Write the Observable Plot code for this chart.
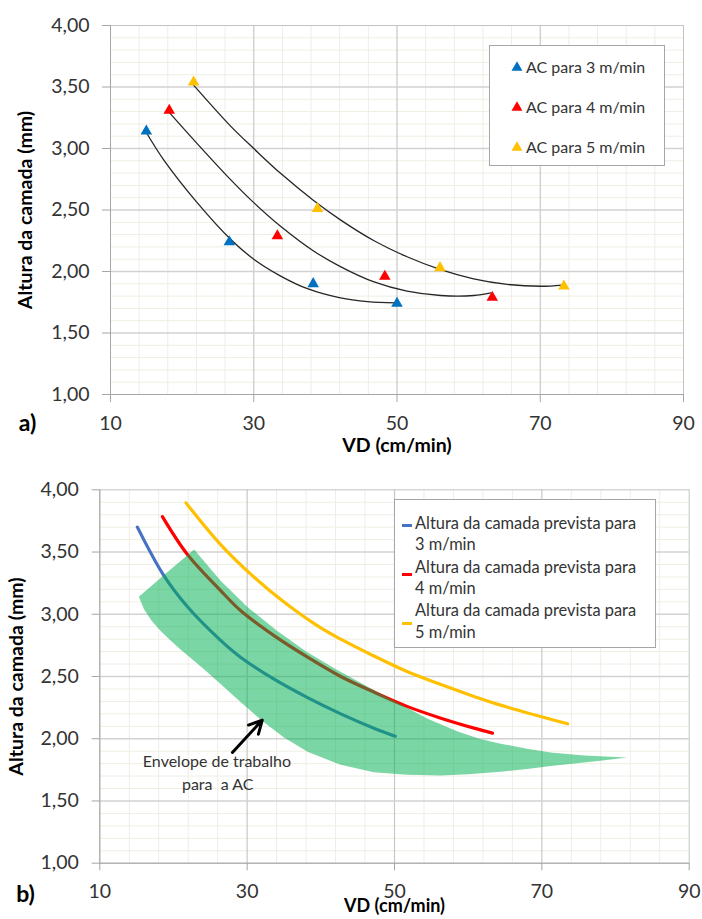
<!DOCTYPE html>
<html><head><meta charset="utf-8">
<script src="https://cdn.jsdelivr.net/npm/d3@7"></script>
<script src="https://cdn.jsdelivr.net/npm/@observablehq/plot@0.6"></script>
<style>
body{margin:0;background:#fff;font-family:Lato,sans-serif;}
#wrap{position:relative;width:702px;height:919px;overflow:hidden;background:#fff;}
.legend{position:absolute;background:#fff;border:1px solid #a6a6a6;box-sizing:border-box;color:#333;font-family:Lato,sans-serif;}
.item{position:absolute;white-space:pre;height:20px;line-height:20px;}
</style></head><body><div id="wrap"></div>
<script>
// ---------- data: chart a) ----------
const acSeries = ["AC para 3 m/min", "AC para 4 m/min", "AC para 5 m/min"];
const acColors = ["#0070C0", "#FF0000", "#FFC000"];
const ac3VD = [15.0, 26.6, 38.3, 50.0];
const ac3H  = [3.14, 2.24, 1.90, 1.74];
const ac4VD = [18.2, 33.3, 48.3, 63.3];
const ac4H  = [3.31, 2.29, 1.96, 1.79];
const ac5VD = [21.6, 38.9, 56.0, 73.3];
const ac5H  = [3.54, 2.51, 2.03, 1.88];
// trend lines
const fit3VD = [15.0, 17.4, 22.1, 26.8, 30.0, 33.7, 37.5, 42.1, 45.9, 49.8];
const fit3H  = [3.13, 2.91, 2.56, 2.26, 2.10, 1.965, 1.86, 1.785, 1.755, 1.745];
const fit4VD = [18.1, 22.1, 26.8, 30.0, 33.7, 38.4, 42.1, 46.8, 51.4, 56.1, 60.7, 63.1];
const fit4H  = [3.30, 3.04, 2.745, 2.56, 2.37, 2.165, 2.04, 1.915, 1.84, 1.805, 1.805, 1.826];
const fit5VD = [21.6, 26.8, 30.0, 33.7, 38.4, 42.1, 46.8, 51.4, 56.1, 60.7, 65.4, 70.1, 73.1];
const fit5H  = [3.515, 3.18, 3.0, 2.80, 2.575, 2.42, 2.25, 2.12, 2.015, 1.94, 1.895, 1.88, 1.89];

// ---------- data: chart b) ----------
const prevSeries = ["Altura da camada prevista para\n3 m/min", "Altura da camada prevista para\n4 m/min", "Altura da camada prevista para\n5 m/min"];
const prevColors = ["#4472C4", "#FF0000", "#FFC000"];
const prev3VD = [15.1, 18.7, 21.9, 26.4, 29.1, 33.6, 38.2, 42.7, 47.2, 50.1];
const prev3H  = [3.70, 3.31, 3.06, 2.79, 2.655, 2.48, 2.33, 2.20, 2.085, 2.02];
const prev4VD = [18.5, 21.9, 26.4, 29.1, 33.6, 38.2, 42.7, 47.2, 51.7, 56.3, 60.8, 63.3];
const prev4H  = [3.785, 3.48, 3.19, 3.03, 2.83, 2.655, 2.50, 2.375, 2.26, 2.165, 2.085, 2.045];
const prev5VD = [21.7, 26.4, 30.9, 35.4, 40.0, 42.7, 47.2, 51.7, 56.3, 60.8, 64.4, 73.5];
const prev5H  = [3.895, 3.56, 3.30, 3.08, 2.89, 2.80, 2.665, 2.54, 2.435, 2.34, 2.27, 2.12];
// working envelope: upper and lower edges
const envUpVD = [15.3, 19.0, 22.8, 26.4, 30.0, 34.0, 38.0, 42.0, 46.0, 50.4, 54.5, 58.5, 61.5, 64.4, 68.0, 71.2, 75.7, 81.6];
const envUpH  = [3.14, 3.33, 3.52, 3.27, 3.06, 2.87, 2.70, 2.56, 2.43, 2.29, 2.16, 2.06, 2.00, 1.96, 1.92, 1.89, 1.866, 1.85];
const envLoVD = [15.3, 16.0, 17.0, 18.2, 19.6, 21.0, 22.5, 24.1, 26.4, 29.1, 31.8, 35.0, 38.2, 42.7, 47.2, 51.7, 56.3, 60.0, 64.4, 68.0, 71.2, 75.7, 78.5, 81.6];
const envLoH  = [3.14, 3.04, 2.95, 2.87, 2.79, 2.715, 2.64, 2.56, 2.44, 2.295, 2.155, 2.01, 1.895, 1.79, 1.73, 1.71, 1.705, 1.715, 1.735, 1.757, 1.78, 1.81, 1.828, 1.85];
const noteText = ["Envelope de trabalho", "para\u00a0 a AC"];
const noteVD = [25.9, 26.0];
const noteH  = [1.812, 1.63];
const arrowFrom = [28.0, 1.89];
const arrowTo   = [32.05, 2.15];

// ---------- axes ----------
const xTicks = [10, 30, 50, 70, 90];
const yTicks = [1.0, 1.5, 2.0, 2.5, 3.0, 3.5, 4.0];
const xMajorGrid = [30, 50, 70];
const yMajorGrid = [1.5, 2.0, 2.5, 3.0, 3.5];
const xMinorGrid = [14, 18, 22, 26, 34, 38, 42, 46, 54, 58, 62, 66, 74, 78, 82, 86];
const yMinorGrid = [1.1, 1.2, 1.3, 1.4, 1.6, 1.7, 1.8, 1.9, 2.1, 2.2, 2.3, 2.4, 2.6, 2.7, 2.8, 2.9, 3.1, 3.2, 3.3, 3.4, 3.6, 3.7, 3.8, 3.9];
const xTitle = "VD (cm/min)";
const yTitle = "Altura da camada (mm)";

const fmt = d => d.toFixed(2).replace(".", ",");
const zip = (s, xs, ys) => xs.map((x, i) => ({s, x, y: ys[i]}));

function frameMarks(tickSize, yPad, xPad) {
  return [
    Plot.gridX(xMinorGrid, {stroke: "#efeee3", strokeOpacity: 1}),
    Plot.gridY(yMinorGrid, {stroke: "#efeee3", strokeOpacity: 1}),
    Plot.gridX(xMajorGrid, {stroke: "#c8c8c8", strokeOpacity: 1, strokeWidth: 1.2}),
    Plot.gridY(yMajorGrid, {stroke: "#d2d2d2", strokeOpacity: 1, strokeWidth: 1.6}),
    Plot.frame({stroke: "#c4c4c4"}),
    Plot.ruleX([10], {stroke: "#a6a6a6"}),
    Plot.ruleY([1], {stroke: "#a6a6a6"}),
    Plot.axisY(yTicks, {tickSize, tickPadding: yPad, tickFormat: fmt, stroke: "#a6a6a6", fill: "#333", fontSize: 19.5, label: null}),
    Plot.axisX(xTicks, {tickSize, tickPadding: xPad, stroke: "#a6a6a6", fill: "#333", fontSize: 19.5, label: null})
  ];
}
function titleMarks(yDx, xDy, xFs, tag, tagDx, tagDy) {
  return [
    Plot.text([yTitle], {text: d => d, frameAnchor: "left", rotate: -90, dx: yDx, textAnchor: "middle", lineAnchor: "middle", fontSize: 19.5, fontWeight: "bold", fill: "#000"}),
    Plot.text([xTitle], {text: d => d, frameAnchor: "bottom", dy: xDy, textAnchor: "middle", lineAnchor: "middle", fontSize: xFs, fontWeight: "bold", fill: "#000"}),
    Plot.text([tag], {text: d => d, frameAnchor: "bottom-left", dx: tagDx, dy: tagDy, textAnchor: "middle", lineAnchor: "middle", fontSize: 23, fontWeight: "bold", fill: "#000"})
  ];
}

const wrap = document.getElementById("wrap");

// ---------- chart a) ----------
const fitRows = [...zip(acSeries[0], fit3VD, fit3H), ...zip(acSeries[1], fit4VD, fit4H), ...zip(acSeries[2], fit5VD, fit5H)];
const acRows = [...zip(acSeries[0], ac3VD, ac3H), ...zip(acSeries[1], ac4VD, ac4H), ...zip(acSeries[2], ac5VD, ac5H)];

const chartA = Plot.plot({
  width: 702, height: 460,
  marginLeft: 110, marginRight: 19, marginTop: 25, marginBottom: 66,
  x: {domain: [10, 90], axis: null},
  y: {domain: [1, 4], axis: null},
  color: {domain: acSeries, range: acColors},
  style: {fontFamily: "Lato, sans-serif", background: "transparent", overflow: "visible"},
  marks: [
    ...frameMarks(8, 13, 14),
    Plot.line(fitRows, {x: "x", y: "y", z: "s", stroke: "#262626", strokeWidth: 1.3, curve: "catmull-rom"}),
    Plot.dot(acRows, {x: "x", y: "y", fill: "s", symbol: "triangle", r: 4.3, stroke: null}),
    ...titleMarks(-85, 51, 19.5, "a)", -83, 29)
  ]
});
chartA.style.position = "absolute"; chartA.style.left = "0px"; chartA.style.top = "0px";
wrap.append(chartA);

// ---------- chart b) ----------
const prevRows = [...zip(prevSeries[0], prev3VD, prev3H), ...zip(prevSeries[1], prev4VD, prev4H), ...zip(prevSeries[2], prev5VD, prev5H)];
const envUpRows = envUpVD.map((x, i) => ({x, y: envUpH[i]}));
const envLoRows = envLoVD.map((x, i) => ({x, y: envLoH[i]}));
// closed outline: lower edge left→right, then upper edge right→left
const envRows = [...envLoRows, ...envUpRows.slice(0, -1).reverse()];
const noteRows = noteText.map((t, i) => ({t, x: noteVD[i], y: noteH[i]}));
const arrowRows = [{x1: arrowFrom[0], y1: arrowFrom[1], x2: arrowTo[0], y2: arrowTo[1]}];

const chartB = Plot.plot({
  width: 702, height: 459,
  marginLeft: 99.3, marginRight: 13.3, marginTop: 29.3, marginBottom: 56.3,
  x: {domain: [10, 90], axis: null},
  y: {domain: [1, 4], axis: null},
  color: {domain: prevSeries, range: prevColors},
  style: {fontFamily: "Lato, sans-serif", background: "transparent", overflow: "visible"},
  marks: [
    ...frameMarks(7.6, 13.4, 13),
    Plot.line(prevRows, {x: "x", y: "y", z: "s", stroke: "s", strokeWidth: 3.2, curve: "catmull-rom"}),
    Plot.line(envRows, {x: "x", y: "y", fill: "#00B050", fillOpacity: 0.52, stroke: null, curve: "linear"}),
    Plot.arrow(arrowRows, {x1: "x1", y1: "y1", x2: "x2", y2: "y2", stroke: "#000", strokeWidth: 3, headLength: 11, headAngle: 55}),
    Plot.text(noteRows, {x: "x", y: "y", text: "t", fontSize: 16, fill: "#333"}),
    ...titleMarks(-83.3, 43.5, 18, "b)", -74.3, 31)
  ]
});
chartB.style.position = "absolute"; chartB.style.left = "0px"; chartB.style.top = "460px";
wrap.append(chartB);

// ---------- legend a) ----------
const legA = document.createElement("div");
legA.className = "legend";
Object.assign(legA.style, {left: "489px", top: "45px", width: "176px", height: "121px"});
const triPath = d3.symbol(d3.symbolTriangle, 52)();
[20.7, 61, 101].forEach((cy, i) => {
  const m = document.createElement("div");
  m.innerHTML = `<svg width="16" height="16" style="display:block"><path transform="translate(8,8.5)" d="${triPath}" fill="${acColors[i]}"/></svg>`;
  Object.assign(m.style, {position: "absolute", left: `${27 - 8}px`, top: `${cy - 8}px`});
  legA.append(m);
  const t = document.createElement("div");
  t.className = "item"; t.textContent = acSeries[i];
  Object.assign(t.style, {left: "36px", top: `${cy - 10}px`, fontSize: "16px"});
  legA.append(t);
});
wrap.append(legA);

// ---------- legend b) ----------
const legB = document.createElement("div");
legB.className = "legend";
Object.assign(legB.style, {left: "394px", top: "499px", width: "262px", height: "149px"});
const lineCy = [[22.7, 43.7], [67, 88.3], [110.3, 132]];
const markCy = [25, 74.3, 123.7];
prevSeries.forEach((s, i) => {
  const m = document.createElement("div");
  Object.assign(m.style, {position: "absolute", left: "6.5px", top: `${markCy[i] - 1.5}px`, width: "10px", height: "3px", background: prevColors[i]});
  legB.append(m);
  s.split("\n").forEach((line, k) => {
    const t = document.createElement("div");
    t.className = "item"; t.textContent = line;
    Object.assign(t.style, {left: "20px", top: `${lineCy[i][k] - 10}px`, fontSize: "16.4px"});
    legB.append(t);
  });
});
wrap.append(legB);
</script></body></html>
